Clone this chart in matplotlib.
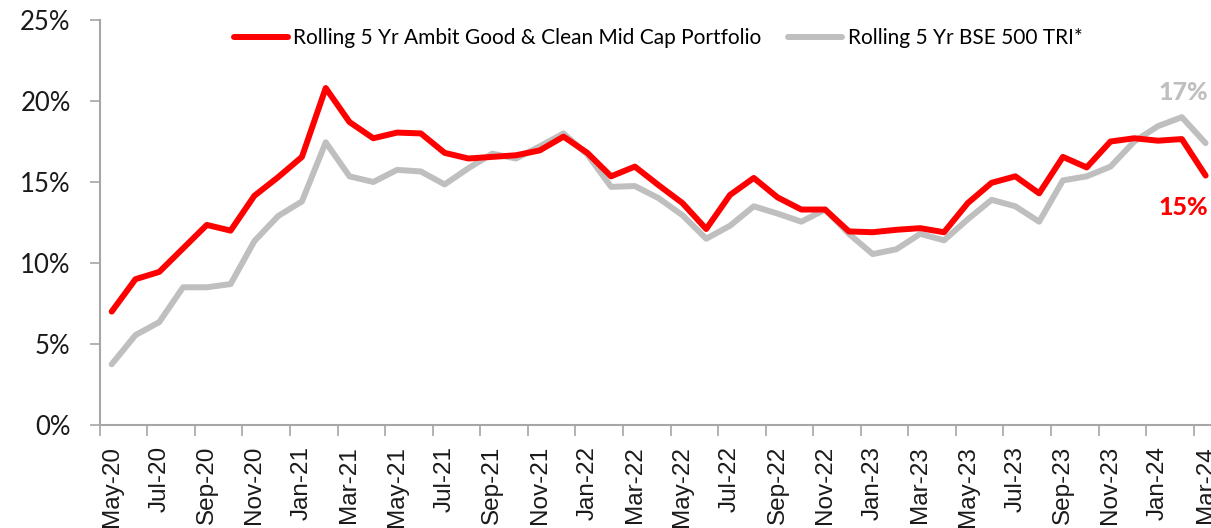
import matplotlib
matplotlib.use("Agg")
import matplotlib.pyplot as plt
from matplotlib.ticker import FixedLocator, NullFormatter

# ---- data ----
tick_labels = ["May-20", "Jul-20", "Sep-20", "Nov-20", "Jan-21", "Mar-21",
               "May-21", "Jul-21", "Sep-21", "Nov-21", "Jan-22", "Mar-22",
               "May-22", "Jul-22", "Sep-22", "Nov-22", "Jan-23", "Mar-23",
               "May-23", "Jul-23", "Sep-23", "Nov-23", "Jan-24", "Mar-24"]

ambit = [7.0, 9.0, 9.45, 10.9, 12.35, 12.0, 14.15, 15.3, 16.55, 20.8,
         18.7, 17.7, 18.05, 18.0, 16.8, 16.45, 16.55, 16.65, 16.95, 17.8,
         16.8, 15.35, 15.95, 14.8, 13.7, 12.1, 14.2, 15.25, 14.05, 13.3,
         13.3, 11.95, 11.9, 12.05, 12.15, 11.9, 13.7, 14.95, 15.35, 14.3,
         16.55, 15.9, 17.5, 17.7, 17.55, 17.65, 15.4]

bse500 = [3.75, 5.55, 6.35, 8.5, 8.5, 8.7, 11.35, 12.9, 13.8, 17.45,
          15.35, 15.0, 15.75, 15.65, 14.85, 15.85, 16.75, 16.45, 17.2, 18.0,
          16.7, 14.7, 14.75, 14.0, 12.95, 11.5, 12.3, 13.5, 13.05, 12.55,
          13.3, 11.8, 10.55, 10.85, 11.8, 11.4, 12.7, 13.9, 13.5, 12.55,
          15.1, 15.35, 15.95, 17.5, 18.45, 19.0, 17.4]

label_ambit = "Rolling 5 Yr Ambit Good & Clean Mid Cap Portfolio"
label_bse = "Rolling 5 Yr BSE 500 TRI*"
end_label_ambit = "15%"
end_label_bse = "17%"

RED = "#FF0000"
GRAY = "#BFBFBF"
AXIS_GRAY = "#A6A6A6"
GEO_FONT = ["Lato", "DejaVu Sans"]
ARIAL = ["Liberation Sans", "DejaVu Sans"]

W, H = 1211, 528
fig = plt.figure(figsize=(W / 100, H / 100), dpi=100)
left, right = 99.8, 1217.5
bottom, top = 425.0, 20.0
ax = fig.add_axes([left / W, (H - bottom) / H, (right - left) / W, (bottom - top) / H])

x = list(range(len(ambit)))
l1, = ax.plot(x, ambit, color=RED, lw=4.3, solid_capstyle="round", solid_joinstyle="round",
              label=label_ambit, zorder=3)
l2, = ax.plot(x, bse500, color=GRAY, lw=4.3, solid_capstyle="round", solid_joinstyle="round",
              label=label_bse, zorder=2)

ax.set_xlim(-0.5, len(ambit) - 0.5)
ax.set_ylim(0, 25)

# y axis
ax.set_yticks([0, 5, 10, 15, 20, 25])
ax.set_yticklabels([f"{v}%" for v in [0, 5, 10, 15, 20, 25]], fontsize=18.5,
                   family=GEO_FONT, color="#1a1a1a")
ax.tick_params(axis="y", length=7, width=1.2, color=AXIS_GRAY, direction="out", pad=14)

# x axis: tick marks at category boundaries, labels at every 2nd category
ax.xaxis.set_major_locator(FixedLocator([i - 0.5 for i in range(0, len(ambit) + 1, 2)]))
ax.xaxis.set_major_formatter(NullFormatter())
ax.set_xticks(list(range(0, len(ambit), 2)), minor=True)
ax.set_xticklabels(tick_labels, minor=True, rotation=90, fontsize=17.5,
                   family=ARIAL, color="#1a1a1a")
ax.tick_params(axis="x", which="major", length=8, width=1.2, color=AXIS_GRAY, direction="out")
ax.tick_params(axis="x", which="minor", length=0, pad=15)

for s in ["top", "right"]:
    ax.spines[s].set_visible(False)
for s in ["left", "bottom"]:
    ax.spines[s].set_color(AXIS_GRAY)
    ax.spines[s].set_linewidth(1.5)

# end labels
ax.text(x[-1] - 0.95, bse500[-1] + 3.15, end_label_bse, color=GRAY, fontsize=18,
        fontweight="black", family=GEO_FONT, ha="center", va="center")
ax.text(x[-1] - 0.95, ambit[-1] - 2.0, end_label_ambit, color=RED, fontsize=18,
        fontweight="black", family=GEO_FONT, ha="center", va="center")

leg = fig.legend(handles=[l1, l2], loc="center", bbox_to_anchor=(658 / W, (H - 38) / H),
                 ncol=2, frameon=False, prop={"family": GEO_FONT, "size": 15},
                 handlelength=2.6, handletextpad=0.25, columnspacing=1.3)

fig.savefig("out.png", dpi=100)
